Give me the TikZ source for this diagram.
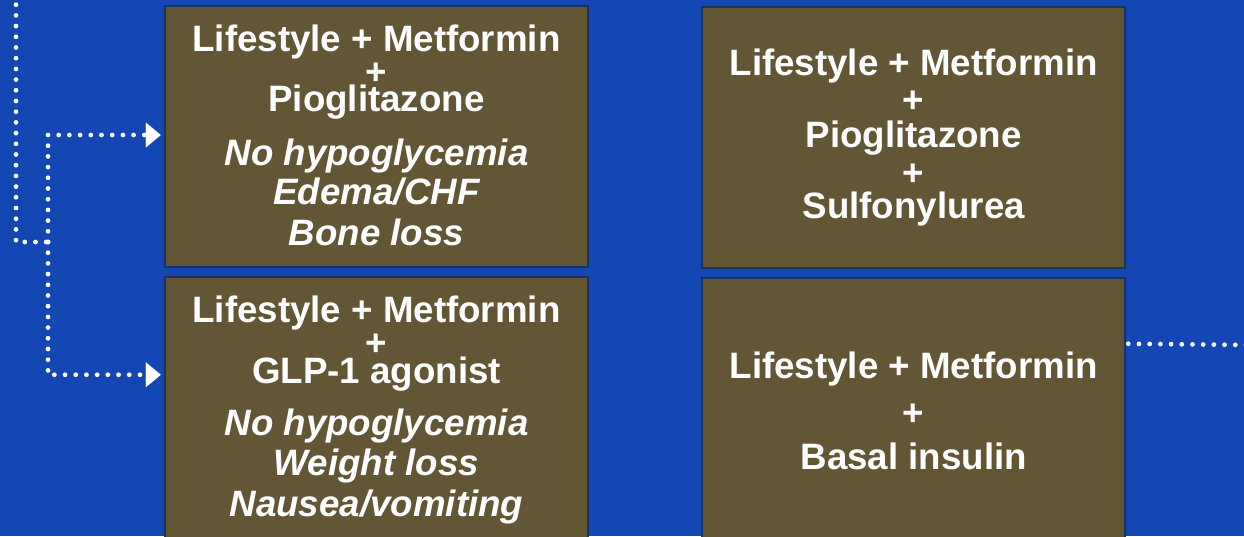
\documentclass[tikz,border=0pt]{standalone}
\usepackage{fontspec}
\setmainfont{Liberation Sans}
\usetikzlibrary{arrows.meta,calc}
\definecolor{bg}{HTML}{1446B4}
\definecolor{boxfill}{HTML}{635634}
\definecolor{boxline}{HTML}{17335F}
\begin{document}
\begin{tikzpicture}[x=1pt,y=-1pt,
  box/.style={draw=boxline, line width=2.5pt, fill=boxfill, minimum width=423pt, minimum height=261pt, inner sep=0pt},
  txt/.style={text=white, inner sep=0pt, anchor=base, font=\fontsize{36.7}{40}\selectfont\bfseries},
  itxt/.style={txt, font=\fontsize{36.7}{40}\selectfont\bfseries\itshape},
  link/.style={draw=white, line width=4.8pt, line cap=round, dash pattern=on 0pt off 10.7pt},
  tip/.style={-{Triangle[length=15pt,width=25pt,line width=0.01pt]}, shorten >=3pt}]
\useasboundingbox (0,0) rectangle (1244,536);
\fill[bg] (0,0) rectangle (1244,536);

% boxes (positions)
\coordinate (tlc) at (376.5,136.5);
\coordinate (blc) at (376.5,407.5);
\coordinate (trc) at (913.5,137.5);
\coordinate (brc) at (913.5,408.5);

% connectors (drawn below the boxes)
\node[box] (tl) at (tlc) {};
\node[box] (bl) at (blc) {};
\node[box] (tr) at (trc) {};
\node[box] (br) at (brc) {};

\coordinate (src) at (16,-6);
\coordinate (split) at (48,242);
\coordinate (out) at (1252,345);
\begin{scope}[on background layer/.style={}]
\draw[link] (src) |- (split);
\draw[link,tip] (split) |- ([yshift=1.5pt]tl.west);
\draw[link,tip] (split) |- ([yshift=-99pt]bl.north west);
\draw[link] ([yshift=-67pt,xshift=2pt]br.north east) -- (out);
\end{scope}

% texts top-left
\node[txt]  (tl1) at (376.5,51.7)  {Lifestyle + Metformin};
\node[txt]  (tl2) at (376.5,84.6)  {+};
\node[txt]  (tl3) at (376.5,111.7) {Pioglitazone};
\node[itxt] (tl4) at (376.5,165)   {No hypoglycemia};
\node[itxt] (tl5) at (376.5,204)   {Edema/CHF};
\node[itxt] (tl6) at (376.5,245)   {Bone loss};

% texts bottom-left
\node[txt]  (bl1) at (376.5,322.3) {Lifestyle + Metformin};
\node[txt]  (bl2) at (376.5,355)   {+};
\node[txt]  (bl3) at (376.5,383.3) {GLP-1 agonist};
\node[itxt] (bl4) at (376.5,435.7) {No hypoglycemia};
\node[itxt] (bl5) at (376.5,475)   {Weight loss};
\node[itxt] (bl6) at (376.5,516.7) {Nausea/vomiting};

% texts top-right
\node[txt] (tr1) at (913.7,75)    {Lifestyle + Metformin};
\node[txt] (tr2) at (913.7,112.6) {+};
\node[txt] (tr3) at (913.7,147.7) {Pioglitazone};
\node[txt] (tr4) at (913.7,185.3) {+};
\node[txt] (tr5) at (913.7,218.3) {Sulfonylurea};

% texts bottom-right
\node[txt] (br1) at (913.7,378.3) {Lifestyle + Metformin};
\node[txt] (br2) at (913.7,425.3) {+};
\node[txt] (br3) at (913.7,469.3) {Basal insulin};
\end{tikzpicture}
\end{document}
